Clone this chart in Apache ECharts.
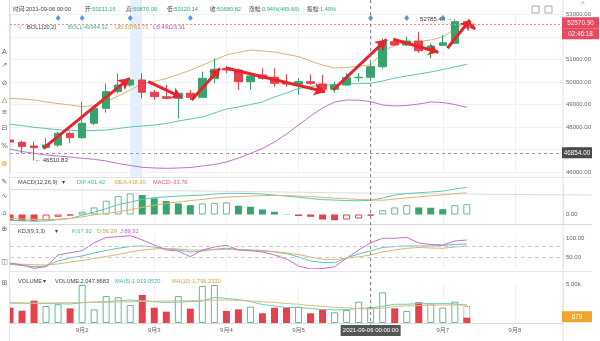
<!DOCTYPE html>
<html><head><meta charset="utf-8">
<script src="https://cdn.jsdelivr.net/npm/echarts@6/dist/echarts.min.js"></script>
<style>html,body{margin:0;padding:0;background:#fff;}#c{width:600px;height:341px;}</style>
</head><body><div id="c"></div>
<script>
const F = '"Liberation Sans","Noto Sans CJK SC",sans-serif';
const UP = '#36a46d', DOWN = '#e5414f', UPL = '#62bd93';

// 4-hour categories starting 2021-09-01 00:00
const nCats = 47;
const categories = [];
for (let i = 0; i < nCats; i++) {
  const d = new Date(Date.UTC(2021, 8, 1, 0, 0) + i * 4 * 3600e3);
  const p = n => String(n).padStart(2, '0');
  categories.push(d.getUTCFullYear() + '-' + p(d.getUTCMonth() + 1) + '-' + p(d.getUTCDate()) + ' ' + p(d.getUTCHours()) + ':00');
}

// [open, close, low, high]
const candles = [
  [47420,47330,47150,47480],[47320,47125,46830,47390],[47155,47080,46510.83,47350],[47080,47200,47050,47525],
  [47200,47720,47125,47790],[47720,47525,47300,47790],[47525,48165,47480,49130],[48165,48830,48090,48870],
  [48830,49570,48636,49940],[49570,49866,49498,50386],[49866,50089,49791,50209],[50089,49542,49275,50386],
  [49542,49347,49200,49644],[49347,49275,49231,49866],[49275,49498,48386,49520],[49498,49320,49200,49644],
  [49320,50164,49300,50458],[50164,50564,49942,51053],[50609,50533,50386,50711],[50533,50013,49644,50600],
  [50013,50266,49644,50300],[50311,50164,50100,50609],[50209,49942,49791,50609],[49970,49910,49790,50340],
  [49910,50015,49420,50165],[50015,49940,49866,50342],[49911,49675,49500,50311],[49675,49866,49525,50013],
  [49866,50190,49850,50390],[50190,50211,50013,50390],[50211.16,50680.82,50120.14,50870],[50680,51791,50600,51940],
  [51791,51644,51600,51940],[51644,51822,51600,52010],[51822,51390,51300,52235],[51450,51600,51050,51700],
  [51630,51744,51600,52090],[51720,52680,51700,52785.44],[52680,52570.9,52480,52700]
];
const bollUB = [49275,49244,49200,49111,49044,48978,48902,48955,49142,49369,49644,49933,50026,50155,50333,50524,50747,50978,51200,51316,51422,51378,51333,51231,51129,50933,50755,50622,50644,50711,50761.73,51333,51644,51755,51800,51867,52000,52355,52667];
const bollMB = [48120,48067,47987,47933,47880,47844,47831,47844,47867,47933,48000,48044,48089,48155,48267,48355,48444,48622,48800,48889,49000,49111,49333,49511,49711,49800,49853,49889,49911,49929,49944.32,50044,50178,50267,50355,50444,50555,50667,50787];
const bollLB = [47009,46911,46831,46756,46711,46667,46609,46564,46489,46378,46289,46209,46178,46164,46178,46200,46267,46333,46444,46622,46822,47044,47333,47689,48089,48489,48844,49111,49200,49191,49126.91,48978,48933,48955,49022,49111,49089,49000,48875];

const macdBar = [-180,-190,-195,-163,-66,-29,77,200,392,523,600,552,458,380,315,266,315,330,345,249,220,143,77,9,-43,-66,-143,-163,-143,-114,-33.76,123,200,266,200,192,152,266,295];
const macdDIF = [-163,-177,-183,-183,-149,-114,-20,66,166,280,352,429,480,503,523,538,552,581,601,601,595,581,552,523,489,452,423,409,395,389,401.42,466,552,595,618,638,666,724,772];
const macdDEA = [-114,-126,-140,-143,-134,-114,-69,-6,29,74,137,200,266,315,357,395,429,466,495,512,523,535,543,538,523,509,486,466,449,429,418.30,403,438,472,500,529,558,595,618];

const kdjK = [31.3,28.1,24.9,26.8,40.2,48.3,53.6,61.7,68.4,74.3,79.1,80.5,77.8,73.2,69.7,64.4,67,71.6,74.3,71.1,69.7,68.4,65.2,60.3,50.9,40.2,36.2,35.6,48.3,59,67.30,76.5,79.1,80.5,80.5,80.5,81.8,84.5,85.9];
const kdjD = [32.2,31.3,30.3,29.4,32.2,37.5,41.5,46.9,52.3,57.6,64.4,69.7,72.4,73.8,72.4,69.7,69.7,70.3,71.6,70.3,69,67,64.4,61.7,57.6,50.9,44.8,44.2,47.5,51.5,56.29,64.4,69.7,74.3,76.5,75.1,74.3,77.8,80.5];
const kdjJ = [35,29.5,20.6,24.9,56.3,62.5,67.9,89.3,103.3,105.5,108.2,96.6,83.2,69.7,67,51.8,69.7,77.8,82.4,69.7,67.9,64.4,56.3,45.6,26.8,18.7,20,24.9,47.5,69.7,89.31,101.2,101.2,103.8,88.5,84.5,83.2,93.9,96.6];

const volume = [1960,1580,2860,2180,2400,1880,4870,1750,3460,3290,2310,3590,1960,1450,3460,1840,4740,4870,1540,1750,2090,1240,1960,1960,2090,1240,1750,1370,1670,2730,2047.8683,3930,1880,1540,2650,2520,1960,2730,679];
const volForecastIdx = 38, volForecast = 2180;   // dotted outline on the live bar
const volMA5 = [2600,2560,2530,2490,2460,2440,2600,2690,2730,2860,2950,2880,2730,2630,2690,2730,2820,3290,3140,3010,2760,2370,2180,1990,1990,1860,1730,1670,1730,1880,1919.057,2150,2400,2400,2500,2440,2500,2440,2310];
const volMA10 = [2530,2540,2550,2560,2590,2600,2630,2650,2670,2690,2730,2760,2780,2820,2850,2860,2880,2920,2950,2880,2820,2730,2630,2500,2400,2240,2120,2010,1950,1850,1796.233,1900,2120,2180,2240,2270,2310,2310,2310];

const eventIdx = [4, 6, 10, 15, 30, 33, 36];
const eventLevel = 52845;
const lastPrice = 52570.9, countdown = '02:46:18', refLine = 46854, crossIdx = 30, bandIdx = [10, 11];
// hand-drawn annotation arrows: [fromIndex, fromPrice, toIndex, toPrice, headSize]
const arrows = [
  [2.77,47053,9.92,50164,11],[11.5,50013,14.28,49320,10],[15.11,49200,17.47,50609,10],
  [17.97,50622,26.2,49569,11],[26.87,49644,31.33,51898,11],[31.88,51898,35.63,51320,10],
  [36.38,51498,38.26,52756,10],[38.12,52636,38.68,52342,6],[39.51,52387,41.59,53231,10]
];

const chart = echarts.init(document.getElementById('c'), null, {renderer: 'canvas'});
const GL = 10, GW = 553;
const dayFmt = v => (+v.slice(5, 7)) + '月' + (+v.slice(8, 10));

function xAx(i) {
  return {
    type: 'category', gridIndex: i, data: categories, boundaryGap: false,
    axisLine: {show: i === 3, lineStyle: {color: '#dcdcdc'}}, axisTick: {show: false},
    axisLabel: {show: i === 3, interval: (idx) => idx > 0 && idx % 6 === 0, formatter: dayFmt, fontSize: 6, color: '#666', margin: 4, fontFamily: F},
    splitLine: {show: true, interval: (idx) => idx % 6 === 0, lineStyle: {color: '#f0f1f3'}}
  };
}
function yAx(i, o) {
  return Object.assign({
    type: 'value', gridIndex: i, position: 'right',
    axisLine: {show: true, lineStyle: {color: '#e3e3e3'}}, axisTick: {show: false},
    splitLine: {show: false},
    axisLabel: {fontSize: 6, color: '#666', margin: 3, fontFamily: F}
  }, o);
}

const macdItems = macdBar.map((v, i) => {
  const prev = i > 0 ? macdBar[i - 1] : v;
  const col = v >= 0 ? UP : DOWN;
  const solid = v >= 0 ? v < prev : v <= prev;
  return {value: v, itemStyle: solid ? {color: col} : {color: '#fff', borderColor: v >= 0 ? UPL : DOWN, borderWidth: 1}};
});
const volItems = volume.map((v, i) => {
  const upc = candles[i][1] >= candles[i][0];
  return {value: v, itemStyle: upc ? {color: '#fff', borderColor: UPL, borderWidth: 1} : {color: DOWN}};
});
const forecastData = volume.map((v, i) => i === volForecastIdx ? volForecast : null);

const lineS = (x, y, data, color) => ({type: 'line', xAxisIndex: x, yAxisIndex: y, data, symbol: 'none', lineStyle: {width: 1, color}, silent: true, z: 3});

const option = {
  animation: false,
  backgroundColor: '#fff',
  textStyle: {fontFamily: F},
  grid: [
    {left: GL, width: GW, top: 14.5, height: 157.5},
    {left: GL, width: GW, top: 186, height: 38},
    {left: GL, width: GW, top: 235, height: 33.5},
    {left: GL, width: GW, top: 284, height: 39}
  ],
  xAxis: [xAx(0), xAx(1), xAx(2), xAx(3), {type: 'value', gridIndex: 0, min: 0, max: nCats - 1, show: false}],
  yAxis: [
    yAx(0, {min: 46000, max: 53000, interval: 1000, splitLine: {show: true, lineStyle: {color: '#f0f1f3'}}, axisLabel: {fontSize: 6, color: '#666', margin: 3, fontFamily: F, formatter: v => v.toFixed(2)}}),
    yAx(1, {min: -270, max: 810, interval: 270, axisLabel: {fontSize: 6, color: '#666', margin: 3, fontFamily: F, formatter: v => v === 0 ? '0.00' : ''}}),
    yAx(2, {min: 20, max: 110, interval: 10, axisLabel: {fontSize: 6, color: '#666', margin: 3, fontFamily: F, formatter: v => (v === 50 || v === 100) ? v.toFixed(2) : ''}}),
    yAx(3, {min: 0, max: 5000, interval: 5000, axisLabel: {fontSize: 6, color: '#666', margin: 3, fontFamily: F, formatter: v => v === 5000 ? '5.00k' : ''}})
  ],
  series: [
    {
      type: 'candlestick', xAxisIndex: 0, yAxisIndex: 0, data: candles, barWidth: 8, z: 4,
      itemStyle: {color: UP, color0: DOWN, borderColor: UP, borderColor0: DOWN, borderWidth: 1},
      markPoint: {
        symbol: 'circle', symbolSize: 0.1, silent: true,
        data: [
          {type: 'max', valueDim: 'highest', label: {show: true, position: 'left', distance: 2, fontSize: 6, color: '#333', formatter: p => p.value.toFixed(2) + ' →'}},
          {type: 'min', valueDim: 'lowest', label: {show: true, position: 'right', distance: 1, fontSize: 6, color: '#333', formatter: p => '← ' + p.value.toFixed(2)}}
        ]
      },
      markLine: {
        symbol: 'none', silent: true, label: {show: false},
        data: [
          {yAxis: lastPrice, lineStyle: {color: '#f08a98', type: [2, 2], width: 1}},
          {yAxis: refLine, lineStyle: {color: '#9a9a9a', type: [3, 3], width: 1}}
        ]
      }
    },
    lineS(0, 0, bollUB, '#dcb572'),
    lineS(0, 0, bollMB, '#5cc6b5'),
    lineS(0, 0, bollLB, '#c86bd6'),
    {type: 'scatter', xAxisIndex: 0, yAxisIndex: 0, data: eventIdx.map(i => [i, eventLevel]), symbol: 'diamond', symbolSize: [5, 6], itemStyle: {color: '#2f7fd8'}, silent: true, z: 6},
    {
      type: 'line', xAxisIndex: 4, yAxisIndex: 0, data: [], symbol: 'none', silent: true, z: 8,
      markLine: {
        silent: true, animation: false,
        data: arrows.map(a => [
          {coord: [a[0], a[1]], symbol: 'none'},
          {coord: [a[2], a[3]], symbol: 'arrow', symbolSize: [a[4] * 0.9, a[4]]}
        ]),
        lineStyle: {color: '#e8232c', width: 3, type: 'solid'},
        label: {show: false}
      }
    },
    {type: 'bar', xAxisIndex: 1, yAxisIndex: 1, data: macdItems, barWidth: 7, silent: true},
    lineS(1, 1, macdDIF, '#5cc6b5'),
    lineS(1, 1, macdDEA, '#dcb572'),
    Object.assign(lineS(2, 2, kdjK, '#5cc6b5'), {
      markLine: {symbol: 'none', silent: true, label: {show: false}, lineStyle: {color: '#cfcfcf', type: [4, 3], width: 1}, data: [{yAxis: 80}, {yAxis: 50}]}
    }),
    lineS(2, 2, kdjD, '#dcb572'),
    lineS(2, 2, kdjJ, '#c86bd6'),
    {type: 'bar', xAxisIndex: 3, yAxisIndex: 3, data: forecastData, barWidth: 7, silent: true, z: 1,
      itemStyle: {color: 'rgba(0,0,0,0)', borderColor: '#8a8a8a', borderWidth: 1, borderType: 'dotted'}},
    {type: 'bar', xAxisIndex: 3, yAxisIndex: 3, data: volItems, barWidth: 7, barGap: '-100%', silent: true, z: 2},
    lineS(3, 3, volMA5, '#66cdbd'),
    lineS(3, 3, volMA10, '#e0bd78')
  ]
};
chart.setOption(option);

// ---------- overlay texts, tags and crosshair ----------
const FS = 5.7;
function txt(x, y, parts, size) {
  const fs = size || FS;
  let s = '';
  const rich = {};
  parts.forEach((p, i) => { rich['p' + i] = {fill: p[1], fontSize: fs, fontFamily: F}; s += '{p' + i + '|' + p[0] + '}'; });
  return {type: 'text', x, y, z: 60, silent: true, style: {text: s, rich, verticalAlign: 'middle', fontSize: fs, fontFamily: F}};
}
function tag(yPix, text, fill, w) {
  const x = GL + GW - 1;
  return [
    {type: 'rect', z: 70, silent: true, shape: {x, y: yPix - 5.5, width: w, height: 11}, style: {fill}},
    {type: 'text', z: 71, silent: true, x: x + w / 2, y: yPix + 0.3, style: {text, fill: '#fff', fontSize: 6.3, fontFamily: F, align: 'center', verticalAlign: 'middle'}}
  ];
}
const G = '#444', GR = '#2fae7c', CY = '#3cb8a4', YE = '#d4a23c', MA = '#c259d0', RD = '#e2577a';
const px = v => chart.convertToPixel({xAxisIndex: 4}, v);
const xc = px(crossIdx);
const b0 = px(bandIdx[0]), b1 = px(bandIdx[1]);
const right = GL + GW;
const yLast = chart.convertToPixel({yAxisIndex: 0}, lastPrice);
const yRef = chart.convertToPixel({yAxisIndex: 0}, refLine);
const yVol = chart.convertToPixel({yAxisIndex: 3}, volume[volume.length - 1]);
const graphics = [
  {type: 'rect', z: -1, silent: true, shape: {x: b0, y: 0, width: b1 - b0, height: 177}, style: {fill: 'rgba(205,225,248,0.55)'}},
  {type: 'rect', z: 55, silent: true, shape: {x: 0, y: 0, width: GL - 0.5, height: 341}, style: {fill: '#fff'}},
  {type: 'line', z: 56, silent: true, shape: {x1: GL - 0.5, y1: 0, x2: GL - 0.5, y2: 341}, style: {stroke: '#e3e3e3', lineWidth: 1}},
  {type: 'line', z: 1, silent: true, shape: {x1: right, y1: 0, x2: right, y2: 341}, style: {stroke: '#e3e3e3', lineWidth: 1}},
  {type: 'line', z: 1, silent: true, shape: {x1: GL, y1: 177.5, x2: 592, y2: 177.5}, style: {stroke: '#e6e6e6', lineWidth: 1}},
  {type: 'polyline', z: 1, silent: true, shape: {points: [[GL, 189.5], [200, 191], [400, 193.5], [592, 195]], smooth: 0.3}, style: {stroke: '#dedede', lineWidth: 1, fill: 'none'}},
  {type: 'line', z: 1, silent: true, shape: {x1: GL, y1: 224.5, x2: 592, y2: 224.5}, style: {stroke: '#d9d9d9', lineWidth: 1}},
  {type: 'line', z: 1, silent: true, shape: {x1: GL, y1: 271.5, x2: 592, y2: 271.5}, style: {stroke: '#e6e6e6', lineWidth: 1}},
  {type: 'line', z: 40, silent: true, shape: {x1: xc, y1: 0, x2: xc, y2: 325}, style: {stroke: '#7a7a7a', lineWidth: 1, lineDash: [3, 3]}},
  {type: 'rect', z: 61, silent: true, shape: {x: xc - 30, y: 325, width: 60, height: 11}, style: {fill: '#555'}},
  {type: 'text', z: 62, silent: true, x: xc, y: 330.5, style: {text: categories[crossIdx] + ':00', fill: '#fff', fontSize: 6, fontFamily: F, align: 'center', verticalAlign: 'middle'}},
  ...tag(yLast - 1.5, lastPrice.toFixed(2), '#e8495e', 37),
  ...tag(yLast + 9.5, countdown, '#e8495e', 37),
  ...tag(yRef, refLine.toFixed(2), '#4a4a4a', 30),
  ...tag(yVol - 1, String(Math.round(volume[volume.length - 1])), '#f2a52e', 30),
  // header
  txt(13, 9, [['时间:2021-09-06 00:00', G]]),
  txt(85, 9, [['开:', G], ['50211.16', GR]]),
  txt(126, 9, [['高:', G], ['50870.00', GR]]),
  txt(167, 9, [['低:', G], ['50120.14', GR]]),
  txt(210, 9, [['收:', G], ['50680.82', GR]]),
  txt(249, 9, [['涨幅:', G], ['0.94%(469.66)', GR]]),
  txt(307, 9, [['振幅:', G], ['1.49%', GR]]),
  // legends
  txt(17, 27, [['∨', '#999']]),
  txt(27, 27, [['BOLL(20,2)', G]]),
  txt(68, 27, [['BOLL:49944.32', CY]]),
  txt(115, 27, [['UB:50761.73', YE]]),
  txt(153, 27, [['LB:49126.91', MA]]),
  txt(18, 182, [['MACD(12,26,9)', G]]),
  txt(62, 182, [['▾', G]]),
  txt(77, 182, [['DIF:401.42', CY]]),
  txt(115, 182, [['DEA:418.30', YE]]),
  txt(153, 182, [['MACD:-33.76', RD]]),
  txt(18, 231, [['KDJ(9,3,3)', G]]),
  txt(55, 231, [['▾', G]]),
  txt(72, 231, [['K:67.30', CY]]),
  txt(97, 231, [['D:56.29', YE]]),
  txt(120, 231, [['J:89.31', MA]]),
  txt(18, 281, [['VOLUME', G]]),
  txt(43, 281, [['▾', G]]),
  txt(55, 281, [['VOLUME:2,047.8683', G]]),
  txt(115, 281, [['MA(5):1,919.0570', CY]]),
  txt(172, 281, [['MA(10):1,796.2330', YE]]),
  // top-right icons
  {type: 'rect', z: 60, silent: true, shape: {x: 532, y: 6, width: 7, height: 7}, style: {fill: 'none', stroke: '#aaa', lineWidth: 1}},
  {type: 'rect', z: 60, silent: true, shape: {x: 545, y: 6, width: 7, height: 7}, style: {fill: 'none', stroke: '#aaa', lineWidth: 1}},
  {type: 'text', z: 60, silent: true, x: 583, y: 4, style: {text: '^', fill: '#888', fontSize: 7, fontFamily: F, align: 'center', verticalAlign: 'middle'}}
];
// left toolbar glyphs
const tools = ['A', '↗', '⊘', '△', '≡', '⊟', '%', '⚙', '✎', '∿', '⌂', '⊕', '◫', '⊞'];
const toolY = [52, 65, 83, 100, 112, 128, 146, 164, 182, 196, 213, 229, 262, 283];
tools.forEach((t, i) => graphics.push({type: 'text', z: 62, silent: true, x: 4.5, y: toolY[i], style: {text: t, fill: i === 7 ? '#d9a520' : '#666', fontSize: 7, fontFamily: '"DejaVu Sans",sans-serif', align: 'center', verticalAlign: 'middle'}}));
chart.setOption({graphic: graphics});
</script>
</body></html>
